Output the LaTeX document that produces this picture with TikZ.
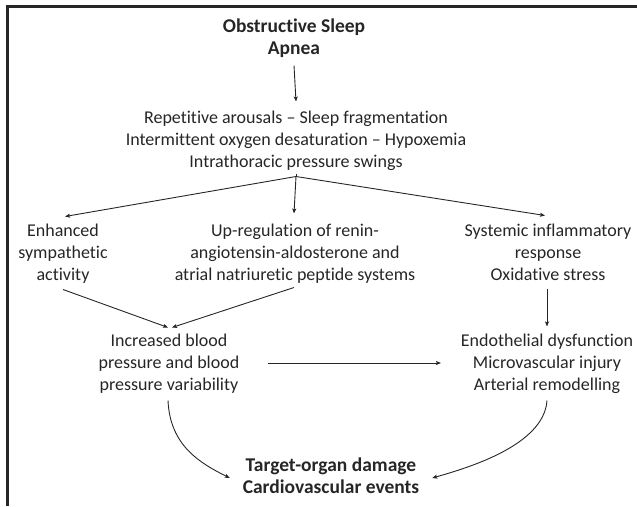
\documentclass[tikz,border=0pt]{standalone}
\usepackage{fontspec}
\setmainfont{Carlito}[Ligatures={TeX,NoCommon}]
\usetikzlibrary{arrows.meta}
\definecolor{ink}{HTML}{262626}
\begin{document}
\begin{tikzpicture}[x=1pt,y=-1pt,
  txt/.style={align=center, inner sep=0pt, outer sep=0pt, text=ink, font=\fontsize{18}{22}\selectfont},
  ttl/.style={align=center, inner sep=0pt, outer sep=0pt, text=ink, font=\fontsize{19.5}{22.5}\selectfont\bfseries},
  arr/.style={draw=ink, line width=0.9pt, -{Stealth[length=5pt,width=4pt,inset=1pt]}},
  frameline/.style={draw=ink, line width=2.5pt}]
\useasboundingbox (0,0) rectangle (637,506);
\draw[frameline] (7.5,506) -- (7.5,6.5) -- (637,6.5);

\node[ttl] (osa) at (294,39) {\strut Obstructive Sleep\\Apnea\strut};
\node[txt] (mech) at (296,141) {\strut Repetitive arousals – Sleep fragmentation\\Intermittent oxygen desaturation – Hypoxemia\\Intrathoracic pressure swings\strut};
\node[txt] (esa) at (63,254) {\strut Enhanced\\sympathetic\\activity\strut};
\node[txt] (raas) at (295,254) {\strut Up-regulation of renin-\\angiotensin-aldosterone and\\atrial natriuretic peptide systems\strut};
\node[txt] (sir) at (548,254) {\strut Systemic inflammatory\\response\hspace*{36pt}\\Oxidative stress\strut};
\node[txt] (bp) at (169,364) {\strut Increased blood\\pressure and blood\\pressure variability\strut};
\node[txt] (endo) at (547,364) {\strut Endothelial dysfunction\\Microvascular injury\\Arterial remodelling\strut};
\node[ttl] (tod) at (331,478) {\strut Target-organ damage\\Cardiovascular events\strut};

\coordinate (br) at ([yshift=-2.5pt]mech.south);
\draw[arr] ([yshift=-4pt]osa.south) -- ([yshift=6.5pt]mech.north);
\draw[draw=ink, line width=0.9pt] (mech.south) -- (br);
\draw[arr] (br) -- ([xshift=2pt,yshift=4.5pt]esa.north);
\draw[arr] (br) -- ([xshift=-1pt,yshift=7.5pt]raas.north);
\draw[arr] (br) -- ([xshift=-3pt,yshift=5.5pt]sir.north);
\draw[arr] ([yshift=-2.5pt]esa.south) -- ([xshift=-1pt,yshift=3.5pt]bp.north);
\draw[arr] ([xshift=-1pt,yshift=-0.5pt]raas.south) -- ([xshift=3pt,yshift=3.5pt]bp.north);
\draw[arr] ([xshift=-1pt,yshift=-1.5pt]sir.south) -- ([yshift=4.5pt]endo.north);
\draw[arr] ([xshift=29pt,yshift=1pt]bp.east) -- ([xshift=-20pt,yshift=1pt]endo.west);
\draw[arr] ([xshift=-1pt,yshift=-3.5pt]bp.south) .. controls +(2,45) and +(-30,-15) .. ([xshift=-13pt]tod.west);
\draw[arr] ([yshift=-3.5pt]endo.south) .. controls +(-3,45) and +(35,-10) .. ([xshift=13pt]tod.east);
\end{tikzpicture}
\end{document}
